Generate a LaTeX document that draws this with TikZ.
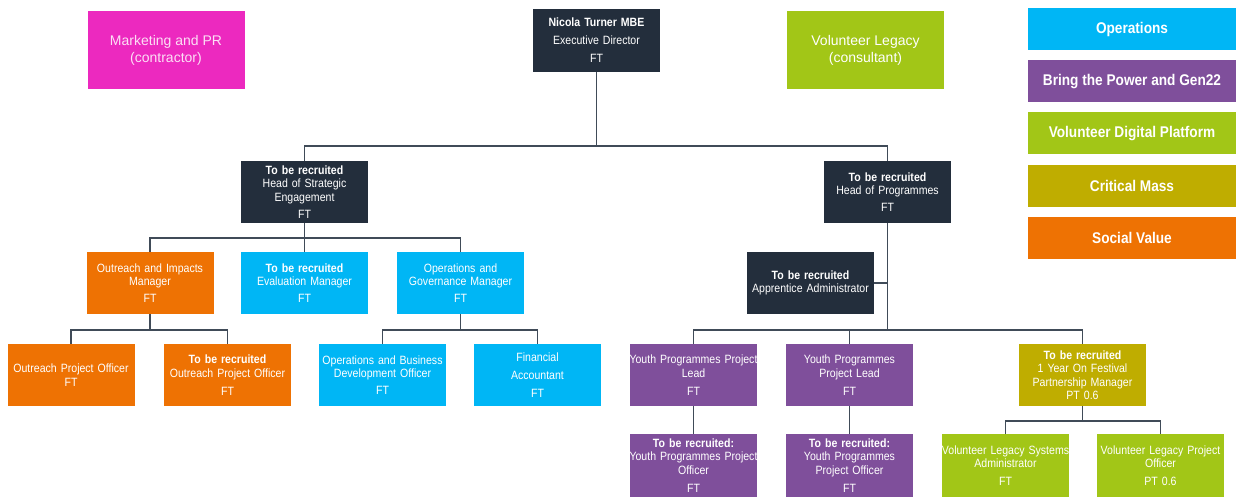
\documentclass[tikz,border=0pt]{standalone}
\usepackage{fontspec}
\setmainfont{Liberation Sans}
\newfontfamily\cond[FakeStretch=0.88]{Liberation Sans}
\definecolor{cmag}{HTML}{EC29BF}
\definecolor{cdark}{HTML}{232E3C}
\definecolor{clime}{HTML}{A2C617}
\definecolor{ccyan}{HTML}{00B6F5}
\definecolor{cpurp}{HTML}{7F4F9B}
\definecolor{colive}{HTML}{BFAD00}
\definecolor{corange}{HTML}{EE7203}
\definecolor{cline}{HTML}{404B58}
\newcommand\widel[1]{\makebox[127pt][c]{#1}}
\begin{document}
\begin{tikzpicture}[x=1pt,y=-1pt,
  box/.style={rectangle, inner sep=0pt, text width=127pt, minimum width=127pt, minimum height=62pt,
    text=white, align=center, font=\cond\fontsize{12}{13.5}\selectfont},
  bigbox/.style={rectangle, inner sep=0pt, minimum width=157pt, minimum height=78pt,
    text=white, align=center, font=\fontsize{14}{17}\selectfont},
  leg/.style={rectangle, inner sep=0pt, minimum width=208pt, minimum height=42pt,
    text=white, font=\cond\bfseries\fontsize{15.5}{18}\selectfont},
  conn/.style={draw=cline, line width=1.6pt}]
\useasboundingbox (0,0) rectangle (1236,497);

% top row
\node[bigbox, fill=cmag, text=white!85!cmag] (mkt) at (166,50) {Marketing and PR\\(contractor)};
\node[box, fill=cdark, minimum height=63pt] (ned) at (596.5,40.5) {\textbf{Nicola Turner MBE}\\[4.5pt]Executive Director\\[4.5pt]FT};
\node[bigbox, fill=clime] (vl) at (865.5,50) {Volunteer Legacy\\(consultant)};

% legend
\node[leg, fill=ccyan] (l1) at (1132,29) {Operations};
\node[leg, fill=cpurp] (l2) at (1132,81.5) {Bring the Power and Gen22};
\node[leg, fill=clime] (l3) at (1132,133.5) {Volunteer Digital Platform};
\node[leg, fill=colive] (l4) at (1132,186) {Critical Mass};
\node[leg, fill=corange] (l5) at (1132,238) {Social Value};

% heads
\node[box, fill=cdark] (hse) at (304.5,192) {\textbf{To be recruited}\\Head of Strategic\\Engagement\\[3.5pt]FT};
\node[box, fill=cdark] (hop) at (887.5,192) {\textbf{To be recruited}\\Head of Programmes\\[3.5pt]FT};

% managers
\node[box, fill=corange] (oim) at (150,283) {Outreach and Impacts\\Manager\\[3.5pt]FT};
\node[box, fill=ccyan] (evm) at (304.5,283) {\textbf{To be recruited}\\Evaluation Manager\\[3.5pt]FT};
\node[box, fill=ccyan] (ogm) at (460.5,283) {Operations and\\Governance Manager\\[3.5pt]FT};
\node[box, fill=cdark] (app) at (810.5,283) {\textbf{To be recruited}\\Apprentice Administrator};

% officers
\node[box, fill=corange] (opo1) at (71,375) {\widel{Outreach Project Officer}\\FT\\[6pt]};
\node[box, fill=corange] (opo2) at (227.5,375) {\textbf{To be recruited}\\\widel{Outreach Project Officer}\\[4.5pt]FT};
\node[box, fill=ccyan] (obd) at (382.5,375) {\widel{Operations and Business}\\Development Officer\\[3.5pt]FT\\[3pt]};
\node[box, fill=ccyan] (fa) at (537.5,375) {Financial\\[4.5pt]Accountant\\[4.5pt]FT};
\node[box, fill=cpurp] (ypl1) at (693.5,375) {\widel{Youth Programmes Project}\\Lead\\[4.5pt]FT};
\node[box, fill=cpurp] (ypl2) at (849.5,375) {Youth Programmes\\Project Lead\\[4.5pt]FT};
\node[box, fill=colive] (fest) at (1082.5,375) {\textbf{To be recruited}\\1 Year On Festival\\Partnership Manager\\PT 0.6};

% bottom row
\node[box, fill=cpurp, minimum height=63pt] (ypo1) at (693.5,465.5) {\textbf{To be recruited:}\\\widel{Youth Programmes Project}\\Officer\\[4.5pt]FT};
\node[box, fill=cpurp, minimum height=63pt] (ypo2) at (849.5,465.5) {\textbf{To be recruited:}\\Youth Programmes\\Project Officer\\[4.5pt]FT};
\node[box, fill=clime, minimum height=63pt] (vlsa) at (1005.5,465.5) {\widel{Volunteer Legacy Systems}\\Administrator\\[4.5pt]FT\\[2pt]};
\node[box, fill=clime, minimum height=63pt] (vlpo) at (1160.5,465.5) {\widel{Volunteer Legacy Project}\\Officer\\[4.5pt]PT 0.6\\[2pt]};

% bus coordinates
\coordinate (b1) at (596.5,146);
\coordinate (b2) at (304.5,238);
\coordinate (b3) at (150,330);
\coordinate (b4) at (460.5,330);
\coordinate (b5) at (887.5,330);
\coordinate (b6) at (1082.5,421);

% connectors
\draw[conn] (ned.south) -- (b1) -| (hse.north);
\draw[conn] (b1) -| (hop.north);
\draw[conn] (hse.south) -- (b2) -| (oim.north);
\draw[conn] (b2) -| (ogm.north);
\draw[conn] (b2) -- (evm.north);
\draw[conn] (oim.south) -- (b3) -| (opo1.north);
\draw[conn] (b3) -| (opo2.north);
\draw[conn] (ogm.south) -- (b4) -| (obd.north);
\draw[conn] (b4) -| (fa.north);
\draw[conn] (hop.south) -- (b5) -| (ypl1.north);
\draw[conn] (b5) -| (ypl2.north);
\draw[conn] (b5) -| (fest.north);
\draw[conn] (app.east) -- (app.east -| hop.south);
\draw[conn] (ypl1.south) -- (ypo1.north);
\draw[conn] (ypl2.south) -- (ypo2.north);
\draw[conn] (fest.south) -- (b6) -| (vlsa.north);
\draw[conn] (b6) -| (vlpo.north);
\end{tikzpicture}
\end{document}
